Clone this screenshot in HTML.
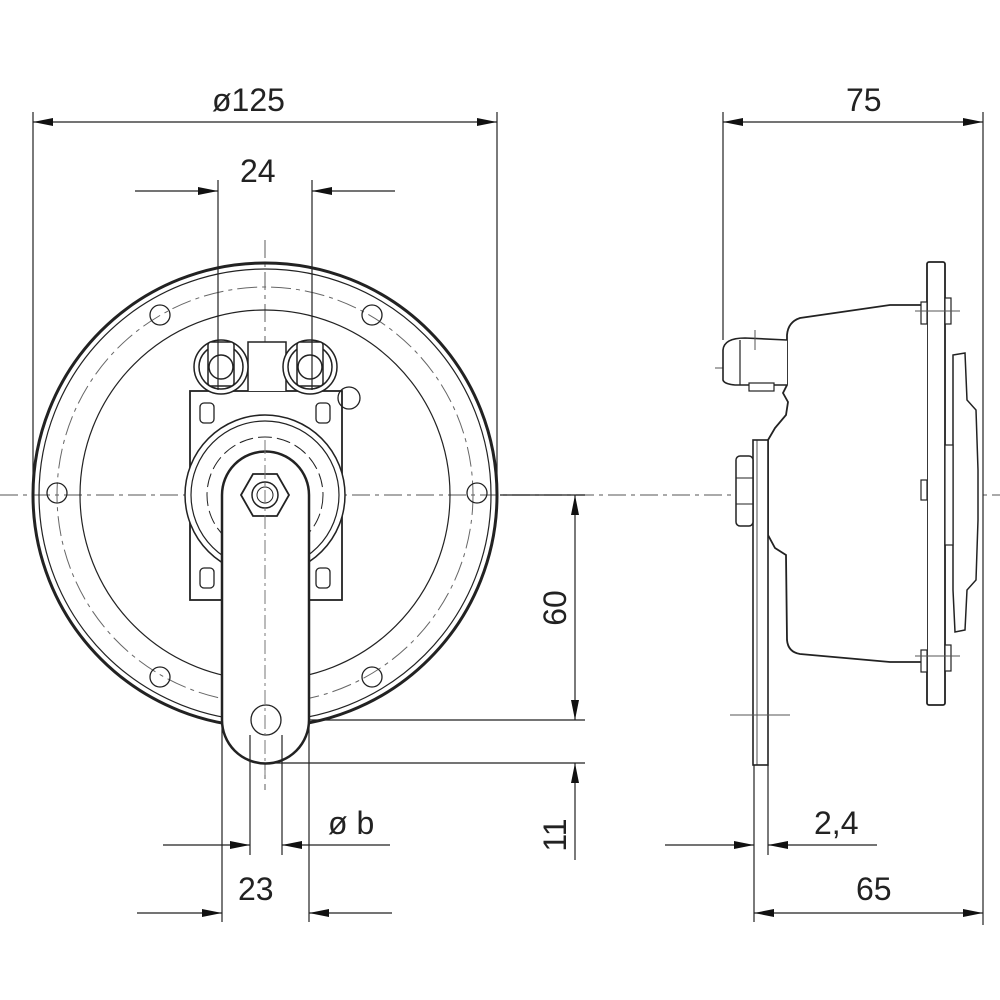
<!DOCTYPE html>
<html><head><style>html,body{margin:0;padding:0;background:#fff}svg{display:block}</style></head>
<body>
<svg width="1000" height="1000" viewBox="0 0 1000 1000" xmlns="http://www.w3.org/2000/svg" font-family="Liberation Sans, sans-serif" fill="none" stroke="#222">
<defs>
<marker id="a" viewBox="0 0 20 8" refX="20" refY="4" markerWidth="20" markerHeight="8" markerUnits="userSpaceOnUse" orient="auto-start-reverse"><path d="M0,0L20,4L0,8z" fill="#111" stroke="none"/></marker>
</defs>
<!-- center lines -->
<g stroke="#777" stroke-width="1.2" stroke-dasharray="18,5,4,5">
<line x1="0" y1="495" x2="1000" y2="495"/>
<line x1="265" y1="240" x2="265" y2="790"/>
<line x1="715" y1="368" x2="790" y2="368"/>
</g>
<!-- FRONT VIEW -->
<circle cx="265" cy="495" r="232" stroke-width="3"/>
<circle cx="265" cy="495" r="226" stroke-width="1.2"/>
<circle cx="265" cy="495" r="208" stroke="#666" stroke-width="1" stroke-dasharray="20,5,4,5"/>
<circle cx="265" cy="495" r="185" stroke-width="1.2"/>
<g stroke-width="1.3">
<circle cx="57" cy="493" r="10"/><circle cx="477" cy="493" r="10"/>
<circle cx="160" cy="315" r="10"/><circle cx="372" cy="315" r="10"/>
<circle cx="160" cy="677" r="10"/><circle cx="372" cy="677" r="10"/>
</g>
<!-- bracket plate -->
<rect x="190" y="391" width="152" height="209" fill="#fff" stroke-width="1.8"/>
<rect x="200" y="403" width="14" height="20" rx="4" stroke-width="1.3"/>
<rect x="316" y="403" width="14" height="20" rx="4" stroke-width="1.3"/>
<rect x="200" y="568" width="14" height="20" rx="4" stroke-width="1.3"/>
<rect x="316" y="568" width="14" height="20" rx="4" stroke-width="1.3"/>
<!-- terminals -->
<path d="M248,391 L248,342 L286,342 L286,391" fill="#fff" stroke-width="1.5"/>
<g stroke-width="1.5" fill="#fff">
<circle cx="221" cy="367" r="27"/><circle cx="221" cy="367" r="22"/>
<rect x="208" y="342" width="26" height="44" rx="3"/><circle cx="221" cy="367" r="12"/>
<circle cx="310" cy="367" r="27"/><circle cx="310" cy="367" r="22"/>
<rect x="297" y="342" width="26" height="44" rx="3"/><circle cx="310" cy="367" r="12"/>
</g>
<circle cx="349" cy="398" r="11" stroke-width="1.3"/>
<!-- central circles -->
<circle cx="265" cy="495" r="80" fill="#fff" stroke-width="1.5"/>
<circle cx="265" cy="495" r="74" stroke-width="1.2"/>
<circle cx="265" cy="495" r="58" stroke-width="1" stroke-dasharray="14,5"/>
<!-- strap -->
<path d="M222,720 L222,495 A43.5,43.5 0 0 1 309,495 L309,720 A43.5,43.5 0 0 1 222,720 Z" fill="#fff" stroke-width="2.5"/>
<polygon points="241,495 253,474 277,474 289,495 277,516 253,516" fill="#fff" stroke-width="1.8"/>
<circle cx="265" cy="495" r="13" stroke-width="1.5"/>
<circle cx="265" cy="495" r="8" stroke-width="1"/>
<circle cx="266" cy="720" r="15" fill="#fff" stroke-width="1.3"/>
<line x1="265" y1="440" x2="265" y2="780" stroke="#777" stroke-dasharray="14,4,3,4"/>
<!-- front dims -->
<g stroke-width="1.2">
<line x1="33" y1="112" x2="33" y2="495"/><line x1="497" y1="112" x2="497" y2="495"/>
<line x1="33" y1="122" x2="497" y2="122" marker-start="url(#a)" marker-end="url(#a)"/>
<line x1="218" y1="180" x2="218" y2="390"/><line x1="312" y1="180" x2="312" y2="390"/>
<line x1="135" y1="191" x2="218" y2="191" marker-end="url(#a)"/>
<line x1="395" y1="191" x2="312" y2="191" marker-end="url(#a)"/>
<line x1="310" y1="720" x2="585" y2="720"/><line x1="270" y1="763" x2="585" y2="763"/>
<line x1="500" y1="495" x2="585" y2="495"/>
<line x1="575" y1="495" x2="575" y2="720" marker-start="url(#a)" marker-end="url(#a)"/>
<line x1="575" y1="860" x2="575" y2="763" marker-end="url(#a)"/>
<line x1="222" y1="720" x2="222" y2="922"/><line x1="309" y1="720" x2="309" y2="922"/>
<line x1="250" y1="735" x2="250" y2="855"/><line x1="282" y1="735" x2="282" y2="855"/>
<line x1="163" y1="845" x2="250" y2="845" marker-end="url(#a)"/>
<line x1="390" y1="845" x2="282" y2="845" marker-end="url(#a)"/>
<line x1="137" y1="913" x2="222" y2="913" marker-end="url(#a)"/>
<line x1="392" y1="913" x2="309" y2="913" marker-end="url(#a)"/>
</g>
<g fill="#222" stroke="none" font-size="32">
<text x="212" y="111">ø125</text>
<text x="240" y="182">24</text>
<text x="328" y="834">ø b</text>
<text x="238" y="900">23</text>
<text transform="translate(566,608) rotate(-90)" text-anchor="middle">60</text>
<text transform="translate(566,835) rotate(-90)" text-anchor="middle">11</text>
<text x="846" y="111">75</text>
<text x="814" y="834">2,4</text>
<text x="856" y="900">65</text>
</g>
<!-- SIDE VIEW -->
<g stroke-width="1.8" fill="#fff">
<rect x="927" y="262" width="18" height="443" rx="2"/>
<path d="M927,305 L890,305 L800,318 Q788,322 787,335 L787,385 L783,393 L788,402 L786,415 L775,428 L768,440 L768,535 L775,548 L786,555 L787,640 Q788,652 800,654 L890,662 L927,662"/>
<path d="M953,355 L965,353 L967,400 L976,410 L978,470 L978,520 L976,580 L967,590 L965,630 L955,632 L953,590 Z" stroke-width="1.5"/>
<rect x="753" y="440" width="15" height="325" stroke-width="1.6"/>
<line x1="757" y1="440" x2="757" y2="765" stroke-width="0.8"/>
<rect x="736" y="456" width="17" height="70" rx="4" stroke-width="1.5"/>
<line x1="736" y1="478" x2="753" y2="478" stroke-width="1"/><line x1="736" y1="504" x2="753" y2="504" stroke-width="1"/>
<path d="M787,340 L745,338 Q724,338 723,350 L723,380 Q724,384 735,385 L787,385" stroke-width="1.6"/>
<line x1="740" y1="340" x2="740" y2="385" stroke-width="1.2"/>
<rect x="749" y="383" width="25" height="8" stroke-width="1.2"/>
<rect x="921" y="302" width="6" height="22" stroke-width="1.2"/><rect x="945" y="298" width="6" height="26" stroke-width="1.2"/>
<rect x="921" y="650" width="6" height="22" stroke-width="1.2"/><rect x="945" y="645" width="6" height="26" stroke-width="1.2"/>
<rect x="945" y="445" width="8" height="100" stroke-width="1.2"/>
<rect x="921" y="480" width="6" height="20" stroke-width="1.2"/>
</g>
<g stroke="#555" stroke-width="1">
<line x1="915" y1="311" x2="960" y2="311"/><line x1="915" y1="656" x2="960" y2="656"/>
<line x1="730" y1="715" x2="790" y2="715"/><line x1="755" y1="330" x2="755" y2="350"/>
</g>
<g stroke-width="1.2">
<line x1="723" y1="112" x2="723" y2="340"/><line x1="983" y1="112" x2="983" y2="925"/>
<line x1="723" y1="122" x2="983" y2="122" marker-start="url(#a)" marker-end="url(#a)"/>
<line x1="754" y1="765" x2="754" y2="922"/><line x1="768" y1="765" x2="768" y2="855"/>
<line x1="665" y1="845" x2="754" y2="845" marker-end="url(#a)"/>
<line x1="877" y1="845" x2="768" y2="845" marker-end="url(#a)"/>
<line x1="754" y1="913" x2="983" y2="913" marker-start="url(#a)" marker-end="url(#a)"/>
</g>
</svg>
</body></html>
